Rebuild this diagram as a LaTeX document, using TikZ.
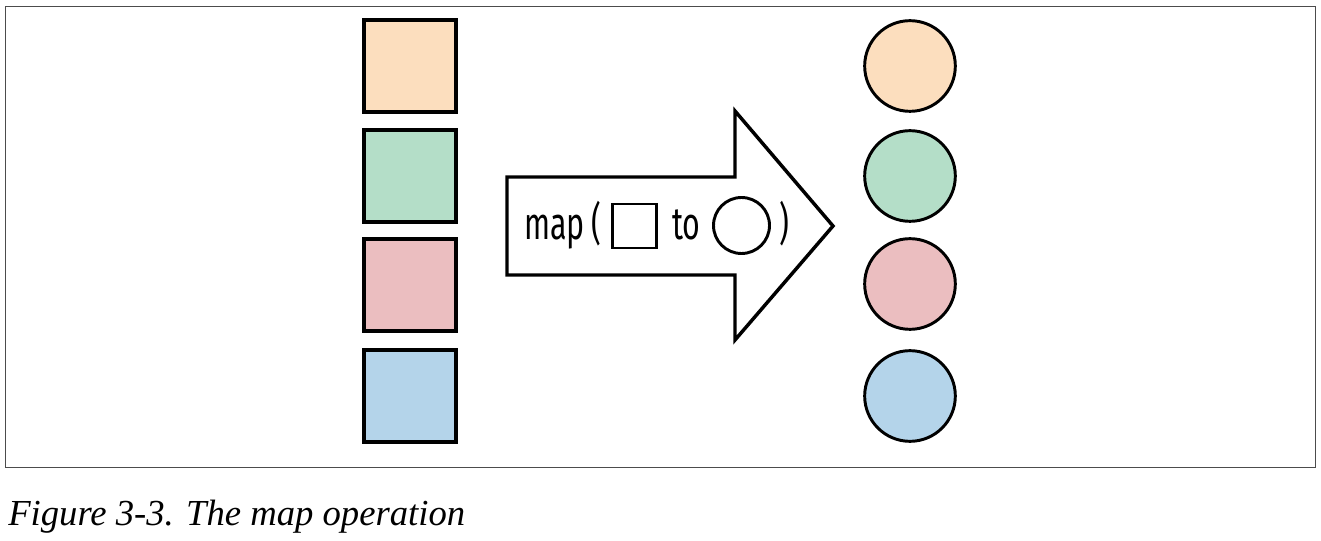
\documentclass[tikz,border=0pt]{standalone}
\usepackage{fontspec}
\newfontfamily\condfont[FakeStretch=0.67]{Fira Sans}
\newfontfamily\capfont{Liberation Serif}
\definecolor{peach}{RGB}{252,222,190}
\definecolor{mint}{RGB}{180,222,200}
\definecolor{rose}{RGB}{235,190,192}
\definecolor{sky}{RGB}{180,212,234}
\begin{document}
\begin{tikzpicture}[x=0.75pt,y=-0.75pt,
  sq/.style={draw=black,line width=3pt,minimum width=69pt,minimum height=69pt,inner sep=0pt,outer sep=0pt},
  circ/.style={circle,draw=black,line width=2.2pt,minimum size=68pt,inner sep=0pt},
  frame/.style={draw=black!70,line width=0.7pt},
  lbl/.style={font=\condfont\fontsize{34}{36}\selectfont,inner sep=0pt,anchor=base west}]
\useasboundingbox (0,0) rectangle (1321,541);
\fill[white] (0,0) rectangle (1321,541);
\draw[frame] (5,6) rectangle (1315,467);
% squares
\node[sq,fill=peach] (s1) at (409.5,66.5) {};
\node[sq,fill=mint] (s2) at (409.5,176.5) {};
\node[sq,fill=rose] (s3) at (409.5,285) {};
\node[sq,fill=sky] (s4) at (409.5,396.5) {};
% circles
\node[circ,fill=peach] (c1) at (910,66) {};
\node[circ,fill=mint] (c2) at (910,176) {};
\node[circ,fill=rose] (c3) at (910,284) {};
\node[circ,fill=sky] (c4) at (910,396) {};
% arrow
\draw[line width=2.6pt,line join=miter,fill=white] (507,177) -- (735,177) -- (735,111) -- (833,226) -- (735,340) -- (735,275) -- (507,275) -- cycle;
\node[lbl] (t1) at (524,240) {map};
\node[lbl] (t0) at (591,240) {(};
\node[draw=black,line width=2.2pt,minimum width=33pt,minimum height=33pt,inner sep=0pt] (isq) at (634.5,226) {};
\node[lbl] (t2) at (672,240) {to};
\node[circle,draw=black,line width=2.2pt,minimum size=42pt,inner sep=0pt] (icirc) at (741.5,225.5) {};
\node[lbl] (t3) at (779,240) {)};
% caption
\node[font=\capfont\itshape\fontsize{27.5}{30}\selectfont,inner sep=0pt,anchor=base west] (cap) at (8,525) {Figure 3-3. The map operation};
\end{tikzpicture}
\end{document}
